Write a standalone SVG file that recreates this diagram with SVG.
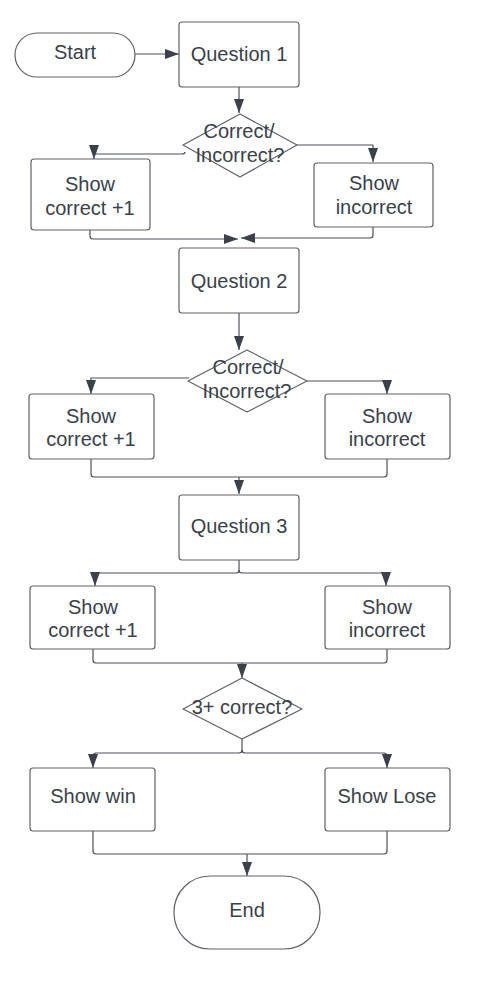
<svg xmlns="http://www.w3.org/2000/svg" width="488" height="994" viewBox="0 0 488 994">
<defs>
<style>
.n{fill:#ffffff;stroke:#5d6168;stroke-width:1.2}
.t{font-family:"Liberation Sans",Arial,sans-serif;font-size:20px;fill:#3a414a;text-anchor:middle}
.c{fill:none;stroke:#4b5159;stroke-width:1.2;stroke-linejoin:round}
</style>
<marker id="a" markerUnits="userSpaceOnUse" markerWidth="14" markerHeight="10" refX="14" refY="5" orient="auto" viewBox="0 0 14 10">
<path d="M0,0 L14,5 L0,10 Z" fill="#3a414a"/>
</marker>
</defs>
<rect width="488" height="994" fill="#ffffff"/>
<g id="connectors">
<path class="c" d="M135,54 L179,54" marker-end="url(#a)"/>
<path class="c" d="M239,87 L239,113" marker-end="url(#a)"/>
<path class="c" d="M185,152 Q185,154 182,154 L94,154 L94,159" marker-end="url(#a)"/>
<path class="c" d="M297,145 L373,145 L373,162" marker-end="url(#a)"/>
<path class="c" d="M90,230 L90,236 Q90,239 93,239 L238,239" marker-end="url(#a)"/>
<path class="c" d="M373,227 L373,235 Q373,238 370,238 L241,238" marker-end="url(#a)"/>
<path class="c" d="M239,313 L239,350" marker-end="url(#a)"/>
<path class="c" d="M189,378 L91,378 L91,394" marker-end="url(#a)"/>
<path class="c" d="M307,381 L387,381 L387,394" marker-end="url(#a)"/>
<path class="c" d="M91,459 L91,474 Q91,477 94,477 L384,477 Q387,477 387,474 L387,459"/>
<path class="c" d="M239,477 L239,494" marker-end="url(#a)"/>
<path class="c" d="M239,560 L239,570 Q239,573 236,573 L98,573 Q95,573 95,576 L95,586" marker-end="url(#a)"/>
<path class="c" d="M239,570 Q239,573 242,573 L383,573 Q386,573 386,576 L386,586" marker-end="url(#a)"/>
<path class="c" d="M93,649 L93,660 Q93,663 96,663 L384,663 Q387,663 387,660 L387,649"/>
<path class="c" d="M242,663 L242,678" marker-end="url(#a)"/>
<path class="c" d="M242,739 L242,750 Q242,753 239,753 L96,753 Q93,753 93,756 L93,768" marker-end="url(#a)"/>
<path class="c" d="M242,750 Q242,753 245,753 L384,753 Q387,753 387,756 L387,768" marker-end="url(#a)"/>
<path class="c" d="M93,831 L93,851 Q93,854 96,854 L384,854 Q387,854 387,851 L387,831"/>
<path class="c" d="M247,854 L247,876" marker-end="url(#a)"/>
</g>
<g id="start"><rect class="n" x="15" y="33" width="120" height="44" rx="22"/><text class="t" x="75" y="59">Start</text></g>
<g id="q1"><rect class="n" x="179" y="22" width="120" height="65" rx="3"/><text class="t" x="239" y="61">Question 1</text></g>
<g id="d1"><path class="n" d="M240,114 L297,145 L240,177 L183,145 Z" stroke-linejoin="round"/><text class="t" x="239" y="138">Correct/</text><text class="t" x="240" y="162">Incorrect?</text></g>
<g id="c1"><rect class="n" x="31" y="159" width="119" height="71" rx="3"/><text class="t" x="90" y="191">Show</text><text class="t" x="90" y="215">correct +1</text></g>
<g id="i1"><rect class="n" x="314" y="163" width="119" height="64" rx="3"/><text class="t" x="374" y="190">Show</text><text class="t" x="374" y="214">incorrect</text></g>
<g id="q2"><rect class="n" x="179" y="248" width="120" height="65" rx="3"/><text class="t" x="239" y="288">Question 2</text></g>
<g id="d2"><path class="n" d="M247,350 L307,381 L247,412 L188,381 Z" stroke-linejoin="round"/><text class="t" x="248" y="374">Correct/</text><text class="t" x="247" y="398">Incorrect?</text></g>
<g id="c2"><rect class="n" x="29" y="394" width="125" height="65" rx="3"/><text class="t" x="91" y="423">Show</text><text class="t" x="91" y="446">correct +1</text></g>
<g id="i2"><rect class="n" x="325" y="394" width="125" height="65" rx="3"/><text class="t" x="387" y="423">Show</text><text class="t" x="387" y="446">incorrect</text></g>
<g id="q3"><rect class="n" x="179" y="495" width="120" height="65" rx="3"/><text class="t" x="239" y="533">Question 3</text></g>
<g id="c3"><rect class="n" x="30" y="586" width="125" height="63" rx="3"/><text class="t" x="93" y="614">Show</text><text class="t" x="93" y="637">correct +1</text></g>
<g id="i3"><rect class="n" x="325" y="586" width="125" height="63" rx="3"/><text class="t" x="387" y="614">Show</text><text class="t" x="387" y="637">incorrect</text></g>
<g id="d3"><path class="n" d="M242,678 L302,709 L242,739 L183,709 Z" stroke-linejoin="round"/><text class="t" x="242" y="714">3+ correct?</text></g>
<g id="win"><rect class="n" x="30" y="768" width="125" height="63" rx="3"/><text class="t" x="93" y="803">Show win</text></g>
<g id="lose"><rect class="n" x="325" y="768" width="125" height="63" rx="3"/><text class="t" x="387" y="803">Show Lose</text></g>
<g id="end"><rect class="n" x="174" y="876" width="146" height="73" rx="36"/><text class="t" x="247" y="917">End</text></g>
</svg>
